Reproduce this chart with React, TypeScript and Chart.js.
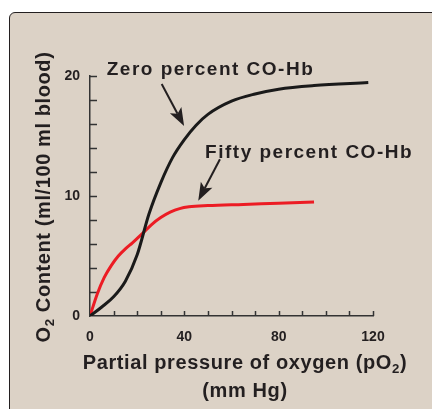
import React, { useEffect, useRef } from 'react';
import { Chart, registerables } from 'chart.js';

Chart.register(...registerables);

// ---- data ----
const zeroCoX = [0, 5, 10, 15, 20, 25, 30, 35, 40, 45, 50, 60, 70, 80, 95, 118];
const zeroCoY = [0, 0.75, 1.6, 2.9, 5.1, 8.5, 11.1, 13.2, 14.7, 15.9, 16.8, 17.9, 18.5, 18.9, 19.2, 19.45];

const fiftyCoX = [0, 3, 6, 9, 12, 15, 18, 22.4, 26, 30, 34, 38, 42, 50, 65, 80, 95];
const fiftyCoY = [0, 1.8, 3.2, 4.2, 5.0, 5.6, 6.1, 6.9, 7.6, 8.2, 8.65, 8.95, 9.1, 9.2, 9.3, 9.4, 9.5];

const xTickLabels = [0, 40, 80, 120];
const yTickLabels = [0, 10, 20];

const zeroLabel = 'Zero percent CO-Hb';
const fiftyLabel = 'Fifty percent CO-Hb';
// annotation anchors in data units [x, y]
const zeroLabelAt = [7.1, 20.08];
const fiftyLabelAt = [48.8, 13.19];
const zeroArrow = [[30.4, 19.33], [39.9, 15.83]];
const fiftyArrow = [[55.1, 13.06], [45.9, 9.61]];

const xTitle = [[{ t: 'Partial pressure of oxygen (pO' }, { t: '2', sub: true }, { t: ')' }], [{ t: '(mm Hg)' }]];
const yTitle = [{ t: 'O' }, { t: '2', sub: true }, { t: ' Content (ml/100 ml blood)' }];

const INK = '#231f20';
const RED = '#ec1c24';
const FONT = '"Liberation Sans", Arial, Helvetica, sans-serif';

type Seg = { t: string; sub?: boolean };

function drawRich(ctx: CanvasRenderingContext2D, segs: Seg[], cx: number, baseY: number, size: number, spacing: number) {
  const subSize = size * 0.66;
  let total = 0;
  const widths = segs.map((s) => {
    ctx.font = `bold ${s.sub ? subSize : size}px ${FONT}`;
    (ctx as any).letterSpacing = `${spacing}px`;
    const w = ctx.measureText(s.t).width;
    total += w;
    return w;
  });
  let x = cx - total / 2;
  ctx.textAlign = 'left';
  ctx.textBaseline = 'alphabetic';
  segs.forEach((s, i) => {
    ctx.font = `bold ${s.sub ? subSize : size}px ${FONT}`;
    (ctx as any).letterSpacing = `${spacing}px`;
    ctx.fillText(s.t, x, baseY + (s.sub ? size * 0.22 : 0));
    x += widths[i];
  });
}

function drawArrow(ctx: CanvasRenderingContext2D, x1: number, y1: number, x2: number, y2: number) {
  const ang = Math.atan2(y2 - y1, x2 - x1);
  const headLen = 18;
  const halfW = 6.5;
  const notch = 4;
  const bx = x2 - Math.cos(ang) * headLen;
  const by = y2 - Math.sin(ang) * headLen;
  ctx.beginPath();
  ctx.moveTo(x1, y1);
  ctx.lineTo(bx + Math.cos(ang) * notch, by + Math.sin(ang) * notch);
  ctx.lineWidth = 2;
  ctx.strokeStyle = INK;
  ctx.stroke();
  const nx = -Math.sin(ang);
  const ny = Math.cos(ang);
  ctx.beginPath();
  ctx.moveTo(x2, y2);
  ctx.lineTo(bx + nx * halfW, by + ny * halfW);
  ctx.lineTo(bx + Math.cos(ang) * notch, by + Math.sin(ang) * notch);
  ctx.lineTo(bx - nx * halfW, by - ny * halfW);
  ctx.closePath();
  ctx.fillStyle = INK;
  ctx.fill();
}

const decor = {
  id: 'decor',
  beforeDatasetsDraw(chart: any) {
    const { ctx, scales, chartArea } = chart;
    const x = scales.x;
    const y = scales.y;
    ctx.save();
    ctx.strokeStyle = '#333333';
    ctx.lineWidth = 1.5;
    y.ticks.forEach((t: any) => {
      if (t.value === 0) return;
      const py = Math.round(y.getPixelForValue(t.value)) + 0.5;
      ctx.beginPath();
      ctx.moveTo(chartArea.left, py);
      ctx.lineTo(chartArea.left + 7, py);
      ctx.stroke();
    });
    x.ticks.forEach((t: any) => {
      if (t.value === 0) return;
      const px = Math.round(x.getPixelForValue(t.value)) + 0.5;
      ctx.beginPath();
      ctx.moveTo(px, chartArea.bottom);
      ctx.lineTo(px, chartArea.bottom - 5);
      ctx.stroke();
    });
    ctx.restore();
  },
  afterDraw(chart: any) {
    const { ctx, scales } = chart;
    const x = scales.x;
    const y = scales.y;
    const P = (p: number[]) => [x.getPixelForValue(p[0]), y.getPixelForValue(p[1])];
    ctx.save();
    // arrows
    const a1 = P(zeroArrow[0]);
    const a2 = P(zeroArrow[1]);
    drawArrow(ctx, a1[0], a1[1], a2[0], a2[1]);
    const b1 = P(fiftyArrow[0]);
    const b2 = P(fiftyArrow[1]);
    drawArrow(ctx, b1[0], b1[1], b2[0], b2[1]);
    // annotation labels
    ctx.fillStyle = INK;
    ctx.font = `bold 19px ${FONT}`;
    (ctx as any).letterSpacing = '1.5px';
    ctx.textAlign = 'left';
    ctx.textBaseline = 'alphabetic';
    const z = P(zeroLabelAt);
    ctx.fillText(zeroLabel, z[0], z[1]);
    const f = P(fiftyLabelAt);
    ctx.fillText(fiftyLabel, f[0], f[1]);
    // axis titles
    drawRich(ctx, xTitle[0], 245, 368.5, 20, 0.6);
    drawRich(ctx, xTitle[1], 245, 396.5, 20, 0.6);
    ctx.translate(50, 197);
    ctx.rotate(-Math.PI / 2);
    drawRich(ctx, yTitle, 0, 0, 20, 0.6);
    ctx.restore();
  },
};

export default function App() {
  const ref = useRef<HTMLCanvasElement | null>(null);

  useEffect(() => {
    if (!ref.current) return;
    const chart = new Chart(ref.current, {
      type: 'line',
      data: {
        datasets: [
          {
            label: zeroLabel,
            data: zeroCoX.map((v, i) => ({ x: v, y: zeroCoY[i] })),
            borderColor: '#1a1a1a',
            borderWidth: 3,
            pointRadius: 0,
            cubicInterpolationMode: 'monotone',
            fill: false,
          },
          {
            label: fiftyLabel,
            data: fiftyCoX.map((v, i) => ({ x: v, y: fiftyCoY[i] })),
            borderColor: RED,
            borderWidth: 3,
            pointRadius: 0,
            cubicInterpolationMode: 'monotone',
            fill: false,
          },
        ],
      },
      options: {
        responsive: false,
        animation: false,
        devicePixelRatio: 1,
        layout: { padding: { left: 0, top: 76, right: 59, bottom: 0 } },
        plugins: { legend: { display: false }, tooltip: { enabled: false } },
        events: [],
        scales: {
          x: {
            type: 'linear',
            min: 0,
            max: 120,
            afterFit: (s: any) => {
              s.height = 93;
            },
            grid: { display: false, drawTicks: false },
            border: { display: true, color: '#333333', width: 1.5 },
            ticks: {
              stepSize: 10,
              autoSkip: false,
              maxRotation: 0,
              padding: 13,
              color: INK,
              font: { family: FONT, size: 14, weight: 'bold' },
              callback: (v: any) => (xTickLabels.includes(Number(v)) ? String(v) : ''),
            },
          },
          y: {
            type: 'linear',
            min: 0,
            max: 20,
            afterFit: (s: any) => {
              s.width = 90;
            },
            grid: { display: false, drawTicks: false },
            border: { display: true, color: '#333333', width: 1.5 },
            ticks: {
              stepSize: 2,
              autoSkip: false,
              padding: 10,
              color: INK,
              font: { family: FONT, size: 14, weight: 'bold' },
              callback: (v: any) => (yTickLabels.includes(Number(v)) ? String(v) : ''),
            },
          },
        },
      } as any,
      plugins: [decor],
    });
    return () => chart.destroy();
  }, []);

  return (
    <div style={{ position: 'fixed', left: 0, top: 0, width: 432, height: 409, background: '#ffffff', overflow: 'hidden' }}>
      <div
        style={{
          position: 'absolute',
          left: 9,
          top: 12,
          width: 450,
          height: 430,
          background: '#dcd2c6',
          border: '1.5px solid #231f20',
          borderRadius: 6,
          boxSizing: 'border-box',
        }}
      />
      <canvas ref={ref} width={432} height={409} style={{ position: 'absolute', left: 0, top: 0, width: 432, height: 409 }} />
    </div>
  );
}
